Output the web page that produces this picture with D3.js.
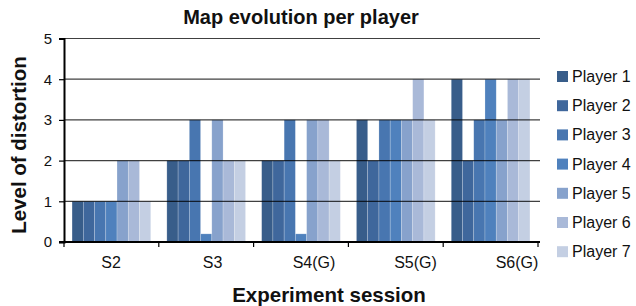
<!DOCTYPE html>
<html>
<head>
<meta charset="utf-8">
<script src="https://cdn.jsdelivr.net/npm/d3@7"></script>
<style>
  body { margin: 0; background: #fff; }
  text { font-family: "Liberation Sans", Arial, sans-serif; fill: #111; }
</style>
</head>
<body>
<div id="chart"></div>
<script>
const sessions = ['S2', 'S3', 'S4(G)', 'S5(G)', 'S6(G)'];
const players = ['Player 1', 'Player 2', 'Player 3', 'Player 4', 'Player 5', 'Player 6', 'Player 7'];
const colors = ['#385d8a', '#3f679c', '#4876b0', '#4f81bd', '#87a2cc', '#a9b9d8', '#c4cfe3'];

// one array per session, one value per player
const s2 = [1, 1, 1, 1, 2, 2, 1];
const s3 = [2, 2, 3, 0.2, 3, 2, 2];
const s4 = [2, 2, 3, 0.2, 3, 3, 2];
const s5 = [3, 2, 3, 3, 3, 4, 3];
const s6 = [4, 2, 3, 4, 3, 4, 4];
const values = [s2, s3, s4, s5, s6];

const yTicks = [0, 1, 2, 3, 4, 5];

const width = 636, height = 306;
const plotLeft = 64, plotRight = 538, gridRight = 540;
const yTop = 38.5, yBottom = 242;

const svg = d3.select('#chart').append('svg')
  .attr('width', width).attr('height', height);

const x0 = d3.scaleBand()
  .domain(sessions)
  .range([plotLeft, plotRight])
  .paddingInner(0.17)
  .paddingOuter(0.085);

const x1 = d3.scaleBand()
  .domain(players)
  .range([0, x0.bandwidth()]);

// category labels sit a little apart from the bands, as in the original
const xLabel = d3.scalePoint()
  .domain(sessions)
  .range([111, 517]);

const y = d3.scaleLinear()
  .domain([0, 5])
  .range([yBottom, yTop]);

const color = d3.scaleOrdinal(players, colors);

const rows = sessions.map((s, i) => ({session: s, vals: values[i]}));

// bars
const group = svg.append('g').selectAll('g')
  .data(rows)
  .enter().append('g')
    .attr('transform', d => `translate(${x0(d.session)},0)`);

group.selectAll('rect')
  .data(d => d.vals.map((v, j) => ({player: players[j], v})))
  .enter().append('rect')
    .attr('x', d => x1(d.player))
    .attr('width', x1.bandwidth())
    .attr('y', d => y(d.v))
    .attr('height', d => y(0) - y(d.v))
    .attr('fill', d => color(d.player))
    .attr('stroke', 'rgba(255,255,255,0.35)')
    .attr('stroke-width', 0.6);

// gridlines on top of bars
svg.append('g')
  .selectAll('line')
  .data(yTicks.filter(t => t > 0))
  .enter().append('line')
    .attr('x1', plotLeft).attr('x2', gridRight)
    .attr('y1', d => y(d)).attr('y2', d => y(d))
    .attr('stroke', '#000')
    .attr('stroke-opacity', 0.75)
    .attr('stroke-width', 1.2);

// y axis
const yAxis = svg.append('g')
  .attr('transform', `translate(${plotLeft},0)`)
  .call(d3.axisLeft(y).tickValues(yTicks).tickSize(5).tickPadding(7).tickFormat(d3.format('d')));
yAxis.select('.domain').attr('stroke', '#000').attr('stroke-width', 2);
yAxis.selectAll('.tick line').attr('stroke-width', 1.2);
yAxis.selectAll('text').style('font-size', '15px');

// x axis with ticks on band boundaries
const xAxis = svg.append('g')
  .attr('transform', `translate(0,${y(0)})`);
xAxis.append('line')
  .attr('x1', plotLeft - 5).attr('x2', gridRight)
  .attr('stroke', '#000').attr('stroke-width', 2);
const edges = [plotLeft].concat(sessions.map(s => x0(s) + x0.bandwidth() + x0.step() * x0.paddingInner() / 2));
xAxis.selectAll('.tk')
  .data(edges)
  .enter().append('line')
    .attr('x1', d => d).attr('x2', d => d)
    .attr('y1', 0).attr('y2', 5)
    .attr('stroke', '#000').attr('stroke-width', 1.2);
xAxis.selectAll('.lbl')
  .data(sessions)
  .enter().append('text')
    .attr('x', d => xLabel(d))
    .attr('y', 26)
    .attr('text-anchor', 'middle')
    .style('font-size', '16px')
    .text(d => d);

// titles
svg.append('text')
  .attr('x', 301).attr('y', 24)
  .attr('text-anchor', 'middle')
  .style('font-size', '20px').style('font-weight', 'bold')
  .text('Map evolution per player');

svg.append('text')
  .attr('x', 329).attr('y', 302)
  .attr('text-anchor', 'middle')
  .style('font-size', '20.5px').style('font-weight', 'bold')
  .text('Experiment session');

svg.append('text')
  .attr('transform', 'translate(26,145) rotate(-90)')
  .attr('text-anchor', 'middle')
  .style('font-size', '20.5px').style('font-weight', 'bold')
  .text('Level of distortion');

// legend
const legend = svg.append('g').selectAll('g')
  .data(players)
  .enter().append('g')
    .attr('transform', (d, i) => `translate(557,${76 + i * 29.2})`);
legend.append('rect')
  .attr('x', 0).attr('y', -5)
  .attr('width', 11).attr('height', 11)
  .attr('fill', d => color(d));
legend.append('text')
  .attr('x', 15).attr('y', 6)
  .style('font-size', '16px')
  .text(d => d);
</script>
</body>
</html>
